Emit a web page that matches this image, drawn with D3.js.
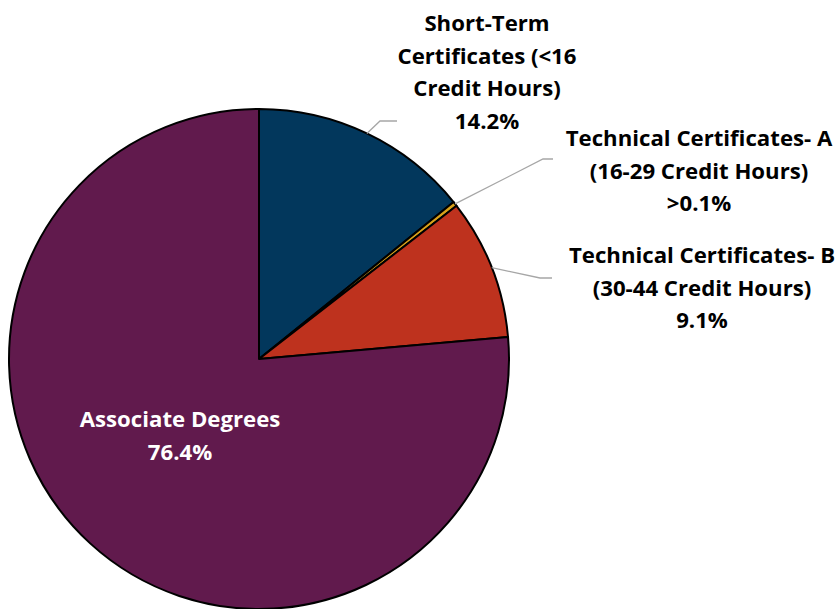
<!DOCTYPE html>
<html><head><meta charset="utf-8">
<script src="https://cdn.jsdelivr.net/npm/d3@7"></script>
<style>
html,body{margin:0;padding:0;background:#fff;}
svg{display:block;}
text{font-family:"Open Sans",sans-serif;font-weight:bold;}
</style></head>
<body>
<svg id="chart" width="838" height="609"></svg>
<script>
const categories = ["Short-Term Certificates (<16 Credit Hours)", "Technical Certificates- A (16-29 Credit Hours)", "Technical Certificates- B (30-44 Credit Hours)", "Associate Degrees"];
const values = [14.2, 0.3, 9.1, 76.4];
const valueLabels = ["14.2%", ">0.1%", "9.1%", "76.4%"];
const labelLines = [
  ["Short-Term", "Certificates (<16", "Credit Hours)"],
  ["Technical Certificates- A", "(16-29 Credit Hours)"],
  ["Technical Certificates- B", "(30-44 Credit Hours)"],
  ["Associate Degrees"]
];
const colors = ["#02375C", "#D9A21B", "#BE321E", "#611A4D"];

const W = 838, H = 609;
const cx = 259, cy = 359, R = 250;
const svg = d3.select("#chart");
const g = svg.append("g").attr("transform", `translate(${cx},${cy})`);

const pie = d3.pie().sort(null).value(d => d)(values);
const arc = d3.arc().innerRadius(0).outerRadius(R);

g.selectAll("path.slice").data(pie).enter().append("path")
  .attr("class", "slice")
  .attr("d", arc)
  .attr("fill", (d, i) => colors[i])
  .attr("stroke", "#000")
  .attr("stroke-width", 2)
  .attr("stroke-linejoin", "round");

const labelPos = [
  {x: 487, y: 31, color: "#000", elbow: [380, 121], end: [397, 121]},
  {x: 699, y: 146, color: "#000", elbow: [543, 159], end: [553, 159]},
  {x: 702, y: 263, color: "#000", elbow: [540, 278], end: [552, 278]},
  {x: 180, y: 427, color: "#fff", elbow: null}
];
const lh = 32.5;
const fs = 22.2;

pie.forEach((d, i) => {
  const p = labelPos[i];
  if (p.elbow) {
    const a = (d.startAngle + d.endAngle) / 2;
    const ax = Math.sin(a) * R + cx, ay = -Math.cos(a) * R + cy;
    svg.append("polyline")
      .attr("points", [[ax, ay], p.elbow, p.end].map(q => q.join(",")).join(" "))
      .attr("fill", "none").attr("stroke", "#A6A6A6").attr("stroke-width", 1.3);
  }
  const t = svg.append("text").attr("text-anchor", "middle").attr("fill", p.color)
    .attr("font-size", fs);
  const lines = labelLines[i].concat([valueLabels[i]]);
  lines.forEach((s, j) => {
    t.append("tspan").attr("x", p.x).attr("y", p.y + j * lh).text(s);
  });
});
</script>
</body></html>
